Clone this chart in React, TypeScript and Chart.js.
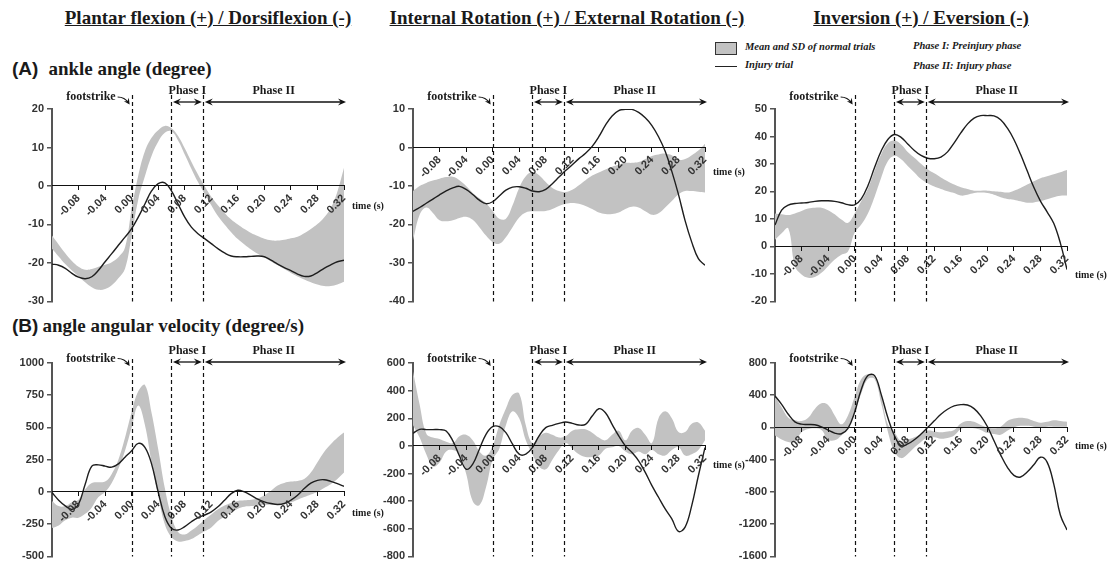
import React, { useEffect, useRef } from "react";
import { Chart, registerables } from "chart.js";

Chart.register(...registerables);

// ---------- shared axis data ----------
const TIME = [-0.12, -0.11, -0.10, -0.09, -0.08, -0.07, -0.06, -0.05, -0.04, -0.03, -0.02, -0.01, 0.00, 0.01, 0.02, 0.03, 0.04, 0.05, 0.06, 0.07, 0.08, 0.09, 0.10, 0.11, 0.12, 0.13, 0.14, 0.15, 0.16, 0.17, 0.18, 0.19, 0.20, 0.21, 0.22, 0.23, 0.24, 0.25, 0.26, 0.27, 0.28, 0.29, 0.30, 0.31, 0.32];
const X_TICKS = [-0.08, -0.04, 0.0, 0.04, 0.08, 0.12, 0.16, 0.20, 0.24, 0.28, 0.32];
const X_TICK_LABELS = ["-0.08", "-0.04", "0.00", "0.04", "0.08", "0.12", "0.16", "0.20", "0.24", "0.28", "0.32"];
const X_MIN = -0.12;
const X_MAX = 0.32;

const FOOTSTRIKE_T = 0.0;
const PHASE1_START_T = 0.06;
const PHASE1_END_T = 0.108;
const PHASE2_END_T = 0.32;

const COLUMN_TITLES = ["Plantar flexion (+) / Dorsiflexion (-)", "Internal Rotation (+) / External Rotation (-)", "Inversion (+) / Eversion (-)"];
const ROW_LETTERS = ["(A)", "(B)"];
const ROW_TITLES = ["ankle angle (degree)", "angle angular velocity (degree/s)"];
const LEGEND_BAND = "Mean and SD of normal trials";
const LEGEND_LINE = "Injury trial";
const PHASE_NOTES = ["Phase I: Preinjury phase", "Phase II: Injury phase"];
const LABEL_FOOTSTRIKE = "footstrike";
const LABEL_PHASE1 = "Phase I";
const LABEL_PHASE2 = "Phase II";
const LABEL_TIME = "time (s)";

// ---------- (A) ankle angle ----------
const A_PF_Y_TICKS = [-30, -20, -10, 0, 10, 20];
const A_PF_INJURY = [-20.3, -20.6, -21.4, -22.7, -23.7, -24.1, -23.6, -21.9, -19.7, -17.6, -15.4, -13.3, -11.1, -8.1, -4.7, -1.3, 0.6, 0.8, -1.3, -4.7, -8.1, -10.7, -12.4, -13.7, -15.0, -16.3, -17.4, -18.2, -18.4, -18.4, -18.3, -18.2, -18.4, -19.3, -20.3, -21.2, -22.0, -22.9, -23.5, -23.4, -22.5, -21.4, -20.5, -19.7, -19.3];
const A_PF_UPPER = [-12.9, -15.2, -17.5, -19.5, -21.0, -21.8, -21.6, -21.0, -20.5, -19.8, -18.5, -16.0, -6.0, 2.7, 9.0, 12.5, 14.5, 15.6, 15.0, 13.0, 9.8, 6.3, 3.0, 0.0, -2.8, -5.0, -7.0, -8.7, -10.0, -11.2, -12.2, -13.0, -13.7, -14.1, -14.2, -14.0, -13.6, -13.2, -12.3, -11.2, -9.9, -8.2, -5.8, -1.5, 4.7];
const A_PF_LOWER = [-16.3, -18.3, -20.3, -22.0, -23.5, -25.0, -26.3, -27.0, -26.8, -25.8, -24.0, -21.5, -13.0, -3.5, 2.5, 7.8, 11.5, 13.8, 14.2, 11.8, 8.2, 4.5, 1.0, -2.0, -5.0, -7.8, -10.0, -12.0, -13.8, -15.2, -16.5, -17.6, -18.6, -19.6, -20.6, -21.6, -22.6, -23.5, -24.3, -25.0, -25.6, -26.0, -26.0, -25.6, -24.9];

const A_ROT_Y_TICKS = [-40, -30, -20, -10, 0, 10];
const A_ROT_INJURY = [-16.6, -15.6, -14.5, -13.4, -12.3, -11.3, -10.5, -10.1, -10.9, -12.2, -13.7, -14.6, -14.1, -12.6, -11.1, -10.3, -10.2, -10.6, -11.3, -11.5, -10.9, -9.4, -7.7, -6.0, -4.5, -2.9, -1.5, 0.3, 2.8, 5.8, 8.2, 9.6, 9.9, 9.9, 9.1, 7.7, 5.7, 2.8, -1.0, -6.2, -12.2, -19.0, -24.6, -28.9, -30.6];
const A_ROT_UPPER = [-11.3, -10.0, -9.2, -8.6, -8.1, -7.7, -7.6, -8.5, -10.0, -11.8, -13.2, -14.5, -16.5, -18.5, -18.5, -15.0, -10.5, -7.5, -6.4, -7.2, -9.0, -10.5, -11.3, -11.6, -11.0, -9.8, -8.5, -7.3, -6.5, -5.7, -5.0, -4.5, -4.0, -4.0, -3.8, -3.0, -2.2, -1.8, -1.6, -2.0, -3.2, -3.0, -2.0, -0.8, 1.0];
const A_ROT_LOWER = [-24.2, -17.5, -15.6, -17.0, -18.9, -19.2, -18.9, -18.3, -18.0, -18.8, -20.7, -22.9, -24.6, -25.0, -23.3, -20.7, -18.2, -16.9, -16.6, -16.6, -16.5, -16.0, -15.2, -14.6, -14.4, -14.6, -15.2, -16.0, -16.9, -17.3, -17.3, -16.9, -16.0, -15.4, -15.6, -16.6, -17.5, -17.1, -15.6, -13.9, -12.2, -11.3, -11.3, -11.5, -11.7];

const A_INV_Y_TICKS = [-20, -10, 0, 10, 20, 30, 40, 50];
const A_INV_INJURY = [7.8, 13.2, 15.0, 15.6, 15.8, 16.0, 16.4, 16.6, 16.6, 16.4, 15.9, 15.2, 15.1, 17.3, 22.1, 28.7, 34.7, 38.9, 40.7, 39.7, 37.3, 34.9, 33.1, 32.1, 31.9, 32.5, 34.4, 37.7, 41.3, 44.5, 46.7, 47.6, 47.6, 47.5, 46.1, 43.1, 38.9, 33.5, 27.5, 21.5, 16.5, 12.6, 8.4, 1.2, -8.4];
const A_INV_UPPER = [12.0, 11.7, 11.4, 12.0, 12.9, 13.8, 14.1, 14.1, 13.2, 11.7, 9.8, 8.6, 12.0, 16.5, 21.0, 27.5, 33.5, 37.5, 38.5, 37.1, 34.4, 32.3, 30.1, 28.1, 26.6, 25.1, 23.7, 22.5, 21.5, 20.9, 20.3, 20.3, 20.3, 20.1, 19.9, 19.6, 20.3, 21.3, 22.5, 23.7, 24.8, 25.5, 26.3, 27.0, 27.8];
const A_INV_LOWER = [2.4, 4.8, 6.6, -7.2, -10.2, -11.4, -11.1, -9.6, -7.2, -4.8, -3.0, -1.8, 5.0, 8.0, 12.0, 18.0, 25.0, 31.0, 33.0, 31.7, 29.3, 26.9, 24.5, 23.0, 21.8, 20.9, 20.1, 19.4, 18.5, 18.8, 19.4, 19.6, 19.4, 18.8, 17.9, 17.3, 17.0, 16.4, 15.9, 16.0, 16.5, 17.2, 17.9, 18.4, 18.5];

// ---------- (B) angular velocity ----------
const B_PF_Y_TICKS = [-500, -250, 0, 250, 500, 750, 1000];
const B_PF_INJURY = [-5, -64, -108, -135, -95, 60, 200, 210, 200, 192, 218, 269, 320, 377, 346, 218, 0, -190, -282, -295, -269, -231, -200, -179, -154, -115, -64, -13, 13, 0, -26, -56, -77, -90, -97, -90, -64, -26, 26, 69, 90, 95, 82, 64, 44];
const B_PF_UPPER = [-70, -110, -110, -80, -60, 20, 70, 75, 80, 140, 250, 420, 620, 780, 830, 615, 333, 30, -190, -310, -330, -300, -260, -215, -175, -135, -105, -85, -70, -65, -60, -50, -25, 10, 50, 70, 80, 85, 100, 150, 230, 310, 370, 420, 460];
const B_PF_LOWER = [-280, -260, -220, -200, -200, -170, -120, -40, 0, 70, 180, 320, 500, 670, 520, 230, -30, -250, -350, -385, -380, -365, -335, -305, -275, -225, -190, -160, -130, -115, -110, -105, -100, -100, -95, -90, -80, -60, -40, -20, 0, 30, 60, 100, 150];

const B_ROT_Y_TICKS = [-800, -600, -400, -200, 0, 200, 400, 600];
const B_ROT_INJURY = [91, 120, 118, 118, 118, 108, 36, -72, -168, -132, -24, 84, 139, 139, 96, 12, -60, -60, -12, 72, 132, 149, 163, 173, 163, 151, 156, 216, 269, 240, 156, 72, 0, -48, -108, -192, -288, -372, -456, -528, -619, -588, -432, -216, -12];
const B_ROT_UPPER = [540, 300, 90, 60, 50, 30, 20, 70, 80, 40, -40, -70, 0, 150, 270, 370, 380, 150, 20, 70, 95, 80, 60, 70, 110, 120, 120, 95, 60, 40, 80, 110, 40, 110, 130, 80, 20, 200, 250, 200, 100, 100, 160, 170, 110];
const B_ROT_LOWER = [150, 60, -60, -150, -120, -40, -30, -60, -200, -400, -430, -300, -100, -20, 150, 250, 200, 40, -60, -150, -170, -100, -30, 20, -20, -60, -80, -80, -70, -20, -10, 0, -40, -60, -40, -60, -30, -60, -70, -30, -10, -70, -60, -30, 40];

const B_INV_Y_TICKS = [-1600, -1200, -800, -400, 0, 400, 800];
const B_INV_INJURY = [390, 287, 164, 70, 41, 37, 33, 8, -33, -70, -78, -10, 190, 472, 644, 644, 410, 123, -102, -226, -205, -152, -82, 0, 82, 164, 226, 267, 283, 279, 234, 144, 12, -164, -340, -492, -594, -615, -553, -463, -369, -430, -700, -1087, -1271];
const B_INV_UPPER = [380, 250, 120, 90, 80, 120, 230, 300, 280, 150, 40, 150, 380, 600, 660, 620, 380, 40, -60, -170, -150, -120, -80, -40, -50, -60, -50, -30, 50, 80, 70, 30, 0, -10, 10, 80, 110, 120, 110, 80, 60, 70, 90, 80, 70];
const B_INV_LOWER = [-100, -150, -180, -180, -60, -20, -10, -30, -150, -160, -100, -10, 190, 420, 600, 600, 300, -50, -300, -380, -330, -250, -180, -120, -120, -140, -130, -100, -20, 0, -10, -30, -70, -80, -90, -40, 0, 20, 20, 10, 0, 10, 10, 10, 10];

// ---------- styling / layout ----------
const FONT_SERIF = "'Liberation Serif', 'Times New Roman', serif";
const FONT_SANS = "'Liberation Sans', Arial, sans-serif";
const BAND_COLOR = "#c2c2c2";
const LINE_COLOR = "#1e1e1e";
const AXIS_COLOR = "#555555";
const TEXT_COLOR = "#1a1a1a";

const Y_AXIS_W = 40;
const PLOT_W = 292;
const PAD_TOP = 35;
const PAD_BOTTOM = 8;
const PAD_RIGHT = 50;

type PanelDef = {
  axisX: number;
  chartTop: number;
  plotH: number;
  yTicks: number[];
  upper: number[];
  lower: number[];
  injury: number[];
  arrowDy: number;
  lineDy: number;
  footDy: number;
  timeDy: number;
};

const PANELS: PanelDef[] = [
  { axisX: 52, chartTop: 109, plotH: 194, yTicks: A_PF_Y_TICKS, upper: A_PF_UPPER, lower: A_PF_LOWER, injury: A_PF_INJURY, arrowDy: -7, lineDy: -7, footDy: -5, timeDy: 20 },
  { axisX: 413, chartTop: 109, plotH: 194, yTicks: A_ROT_Y_TICKS, upper: A_ROT_UPPER, lower: A_ROT_LOWER, injury: A_ROT_INJURY, arrowDy: -7, lineDy: -7, footDy: -5, timeDy: 25 },
  { axisX: 775, chartTop: 109, plotH: 194, yTicks: A_INV_Y_TICKS, upper: A_INV_UPPER, lower: A_INV_LOWER, injury: A_INV_INJURY, arrowDy: -7, lineDy: -7, footDy: -5, timeDy: 29 },
  { axisX: 52, chartTop: 363, plotH: 195, yTicks: B_PF_Y_TICKS, upper: B_PF_UPPER, lower: B_PF_LOWER, injury: B_PF_INJURY, arrowDy: -1, lineDy: -3, footDy: -3.5, timeDy: 21 },
  { axisX: 413, chartTop: 363, plotH: 195, yTicks: B_ROT_Y_TICKS, upper: B_ROT_UPPER, lower: B_ROT_LOWER, injury: B_ROT_INJURY, arrowDy: -1, lineDy: -3, footDy: -3.5, timeDy: 20 },
  { axisX: 775, chartTop: 363, plotH: 195, yTicks: B_INV_Y_TICKS, upper: B_INV_UPPER, lower: B_INV_LOWER, injury: B_INV_INJURY, arrowDy: -1, lineDy: -3, footDy: -3.5, timeDy: 19 },
];

function drawHead(ctx: CanvasRenderingContext2D, x: number, y: number, angle: number, len = 8, half = 3.6) {
  ctx.save();
  ctx.translate(x, y);
  ctx.rotate(angle);
  ctx.beginPath();
  ctx.moveTo(0, 0);
  ctx.lineTo(-len, -half);
  ctx.lineTo(-len * 0.65, 0);
  ctx.lineTo(-len, half);
  ctx.closePath();
  ctx.fill();
  ctx.restore();
}

function drawDoubleArrow(ctx: CanvasRenderingContext2D, x1: number, x2: number, y: number) {
  ctx.beginPath();
  ctx.moveTo(x1 + 4, y);
  ctx.lineTo(x2 - 4, y);
  ctx.stroke();
  drawHead(ctx, x1, y, Math.PI);
  drawHead(ctx, x2, y, 0);
}

function makeMarksPlugin(p: PanelDef) {
  return {
    id: "phaseMarks",
    afterDraw(chart: any) {
      const { ctx, chartArea, scales } = chart;
      const px = (t: number) => scales.x.getPixelForValue(t);
      const arrowY = chartArea.top + p.arrowDy;
      const lineTop = arrowY + p.lineDy;
      ctx.save();
      ctx.strokeStyle = "#111";
      ctx.fillStyle = "#111";
      ctx.lineWidth = 1.2;
      ctx.setLineDash([4, 3]);
      for (const t of [FOOTSTRIKE_T, PHASE1_START_T, PHASE1_END_T]) {
        const x = Math.round(px(t)) + 0.5;
        ctx.beginPath();
        ctx.moveTo(x, lineTop);
        ctx.lineTo(x, chartArea.bottom);
        ctx.stroke();
      }
      ctx.setLineDash([]);
      ctx.lineWidth = 1.3;
      drawDoubleArrow(ctx, px(PHASE1_START_T) + 1.5, px(PHASE1_END_T) - 1.5, arrowY);
      drawDoubleArrow(ctx, px(PHASE1_END_T) + 1.5, px(PHASE2_END_T) + 2, arrowY);

      ctx.fillStyle = TEXT_COLOR;
      ctx.font = `bold 12px ${FONT_SERIF}`;
      ctx.textAlign = "center";
      ctx.textBaseline = "middle";
      ctx.fillText(LABEL_PHASE1, (px(PHASE1_START_T) + px(PHASE1_END_T)) / 2, arrowY - 11);
      ctx.fillText(LABEL_PHASE2, (px(PHASE1_END_T) + px(PHASE2_END_T)) / 2, arrowY - 11);

      const x0 = px(FOOTSTRIKE_T);
      const fy = arrowY + p.footDy;
      ctx.textAlign = "right";
      ctx.fillText(LABEL_FOOTSTRIKE, x0 - 16, fy);
      ctx.lineWidth = 1.1;
      ctx.beginPath();
      ctx.moveTo(x0 - 14, fy);
      ctx.quadraticCurveTo(x0 - 7, fy, x0 - 3, fy + 6);
      ctx.stroke();
      ctx.fillStyle = "#111";
      drawHead(ctx, x0 - 2, fy + 7.5, Math.atan2(6, 4), 6, 3);

      ctx.fillStyle = TEXT_COLOR;
      ctx.textAlign = "left";
      ctx.font = `bold 10px ${FONT_SERIF}`;
      ctx.fillText(LABEL_TIME, chartArea.right + 8, scales.y.getPixelForValue(0) + p.timeDy);
      ctx.restore();
    },
  };
}

function PanelChart({ p }: { p: PanelDef }) {
  const ref = useRef<HTMLCanvasElement>(null);
  const W = Y_AXIS_W + PLOT_W + PAD_RIGHT;
  const H = PAD_TOP + p.plotH + PAD_BOTTOM;

  useEffect(() => {
    if (!ref.current) return;
    const pts = (arr: number[]) => TIME.map((t, i) => ({ x: t, y: arr[i] }));
    const yMin = p.yTicks[0];
    const yMax = p.yTicks[p.yTicks.length - 1];
    const chart = new Chart(ref.current, {
      type: "line",
      data: {
        datasets: [
          { label: LEGEND_LINE, data: pts(p.injury), borderColor: LINE_COLOR, borderWidth: 1.4, pointRadius: 0, fill: false, tension: 0.4 },
          { label: "upper", data: pts(p.upper), borderColor: "rgba(0,0,0,0)", borderWidth: 0, backgroundColor: BAND_COLOR, pointRadius: 0, fill: "+1", tension: 0.4 },
          { label: "lower", data: pts(p.lower), borderColor: "rgba(0,0,0,0)", borderWidth: 0, pointRadius: 0, fill: false, tension: 0.4 },
        ],
      } as any,
      options: {
        responsive: false,
        maintainAspectRatio: false,
        animation: false,
        events: [],
        layout: { padding: { left: 0, right: PAD_RIGHT, top: PAD_TOP, bottom: PAD_BOTTOM } },
        plugins: { legend: { display: false }, tooltip: { enabled: false } },
        scales: {
          x: {
            type: "linear",
            min: X_MIN,
            max: X_MAX,
            position: { y: 0 } as any,
            afterFit: (s: any) => { s.height = 0; },
            afterBuildTicks: (s: any) => { s.ticks = X_TICKS.map((v) => ({ value: v })); },
            border: { display: true, color: "#111", width: 1, z: 1 },
            grid: { display: true, drawOnChartArea: false, drawTicks: true, tickLength: 4, tickColor: "#111", lineWidth: 1, z: 1 },
            ticks: {
              z: 1,
              autoSkip: false,
              minRotation: 45,
              maxRotation: 45,
              padding: 2,
              color: "#333",
              font: { family: FONT_SANS, size: 11, weight: "bold" },
              callback: (_v: any, i: number) => X_TICK_LABELS[i],
            },
          },
          y: {
            type: "linear",
            min: yMin,
            max: yMax,
            afterFit: (s: any) => { s.width = Y_AXIS_W; },
            afterBuildTicks: (s: any) => { s.ticks = p.yTicks.map((v) => ({ value: v })); },
            border: { display: true, color: AXIS_COLOR, width: 2 },
            grid: { display: true, drawOnChartArea: false, drawTicks: true, tickLength: 5, tickColor: AXIS_COLOR, lineWidth: 1.5 },
            ticks: {
              padding: 3,
              color: "#333",
              font: { family: FONT_SANS, size: 11, weight: "bold" },
              callback: (v: any) => String(v),
            },
          },
        },
      } as any,
      plugins: [makeMarksPlugin(p)],
    });
    return () => chart.destroy();
  }, []);

  return (
    <canvas
      ref={ref}
      width={W}
      height={H}
      style={{ position: "absolute", left: p.axisX - Y_AXIS_W, top: p.chartTop - PAD_TOP, width: W, height: H }}
    />
  );
}

const TITLE_CENTERS = [208, 567, 921];

export default function App() {
  const abs = (o: React.CSSProperties): React.CSSProperties => ({ position: "absolute", whiteSpace: "nowrap", color: TEXT_COLOR, ...o });
  return (
    <div style={{ position: "absolute", left: 0, top: 0, width: 1116, height: 566, background: "#fff", overflow: "hidden" }}>
      {COLUMN_TITLES.map((t, i) => (
        <div key={t} style={abs({ left: TITLE_CENTERS[i] - 250, top: 8, width: 500, textAlign: "center", font: `bold 19px ${FONT_SERIF}`, lineHeight: "20px", textDecoration: "underline" })}>
          {t}
        </div>
      ))}
      {[70, 327].map((cy, r) => (
        <div key={r} style={abs({ left: 12, top: cy - 12, lineHeight: "24px" })}>
          <span style={{ font: `bold 19px ${FONT_SANS}` }}>{ROW_LETTERS[r]}</span>
          <span style={{ font: `bold 19px ${FONT_SERIF}`, marginLeft: r === 0 ? 10 : 4 }}>{ROW_TITLES[r]}</span>
        </div>
      ))}
      <div style={abs({ left: 715, top: 42, width: 20, height: 11, background: BAND_COLOR, border: "1px solid #333" })} />
      <div style={abs({ left: 715, top: 66, width: 22, height: 0, borderTop: "1.5px solid #222" })} />
      <div style={abs({ left: 745, top: 41, lineHeight: "16px", font: `italic bold 10.5px ${FONT_SERIF}` })}>{LEGEND_BAND}</div>
      <div style={abs({ left: 745, top: 59, lineHeight: "16px", font: `italic bold 10.5px ${FONT_SERIF}` })}>{LEGEND_LINE}</div>
      <div style={abs({ left: 913, top: 40, lineHeight: "16px", font: `italic bold 10.5px ${FONT_SERIF}` })}>{PHASE_NOTES[0]}</div>
      <div style={abs({ left: 913, top: 60, lineHeight: "16px", font: `italic bold 10.5px ${FONT_SERIF}` })}>{PHASE_NOTES[1]}</div>
      {PANELS.map((p, i) => (
        <PanelChart key={i} p={p} />
      ))}
    </div>
  );
}
